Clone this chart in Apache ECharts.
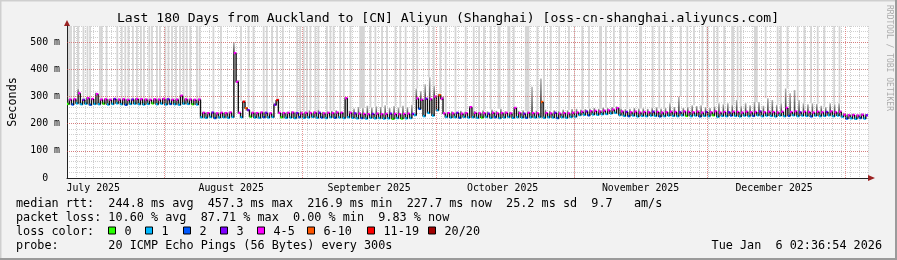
<!DOCTYPE html>
<html><head><meta charset="utf-8">
<script src="https://cdn.jsdelivr.net/npm/echarts@6/dist/echarts.min.js"></script>
<style>html,body{margin:0;padding:0;background:#f2f2f2}#c{width:897px;height:260px}</style>
</head><body><div id="c"></div>
<script>
// ---------------- DATA ----------------
const startISO = '2025-07-10T02:36:54Z';
const totalDays = 180;
const titleText = 'Last 180 Days from Auckland to [CN] Aliyun (Shanghai) [oss-cn-shanghai.aliyuncs.com]';
const monthNames = ['July 2025','August 2025','September 2025','October 2025','November 2025','December 2025'];
const monthLabelDates = ['2025-07-16','2025-08-16','2025-09-16','2025-10-16','2025-11-16','2025-12-16'];
const monthStartDates = ['2025-08-01','2025-09-01','2025-10-01','2025-11-01','2025-12-01','2026-01-01'];
const yTicks = [0,100,200,300,400,500];
const lossClasses = ['0','1','2','3','4-5','6-10','11-19','20/20'];
const lossColors = ['#26ff00','#00b8ff','#0059ff','#7e00ff','#ff00ff','#ff5500','#ff0000','#a10000'];

// median rtt (ms): first and second half of each day
const medLo = [
273,271,275,272,274,270,273,272,274,271,
273,275,272,270,273,274,272,271,273,275,
272,274,271,273,272,270,274,273,272,271,
224,222,225,221,223,224,222,225,354,224,
257,226,223,222,224,223,225,287,224,222,
223,221,224,222,223,225,222,223,221,224,
222,223,221,224,222,220,221,219,222,220,
221,219,220,218,221,219,220,221,232,255,
228,240,230,250,292,225,223,224,222,225,
223,224,222,223,225,222,224,221,223,225,
222,224,223,222,224,223,225,222,224,223,
221,224,222,225,226,232,233,231,234,233,
235,236,238,240,232,229,228,230,227,229,
228,230,229,227,228,230,229,228,231,229,
228,230,227,229,228,231,226,229,228,230,
229,227,230,228,229,231,228,230,229,227,
230,228,229,231,228,230,229,227,230,228,
229,231,228,230,226,219,220,218,221,219];
const medHi = [
289,290,312,288,294,291,309,289,290,288,
291,289,290,288,289,291,290,289,288,290,
289,291,290,288,289,303,290,289,288,289,
240,239,241,238,240,239,241,460,240,281,
250,240,239,241,240,238,270,240,239,240,
241,239,238,240,239,241,240,238,240,239,
241,240,294,240,238,237,236,235,236,237,
235,236,237,236,235,236,237,236,293,288,
292,290,300,305,238,239,238,240,237,239,
261,240,238,239,237,240,238,239,240,238,
258,239,237,240,239,238,280,239,238,240,
237,239,238,240,241,244,245,246,247,245,
248,249,252,257,245,243,242,244,241,243,
242,244,243,241,242,244,243,242,245,243,
242,244,241,243,242,245,241,243,242,244,
243,241,244,242,243,245,242,244,243,241,
244,258,243,245,242,244,243,241,244,242,
243,245,242,244,233,231,232,230,233,231];
// lost pings out of 20
const lossLo = [
0,2,1,1,1,2,1,1,0,1, 1,1,1,2,1,1,1,1,1,0, 1,1,1,2,1,1,1,1,0,1,
1,1,1,2,1,1,1,1,4,1, 7,0,1,1,2,1,1,12,0,1, 1,1,2,1,1,1,1,2,1,1,
2,1,1,1,1,1,2,1,1,1, 1,1,1,0,1,0,1,1,1,2, 1,1,1,1,4,1,1,1,2,1,
1,1,1,0,1,1,2,1,1,1, 1,1,1,2,1,1,1,1,1,1, 2,1,1,1,1,1,1,2,1,1,
1,1,1,1,1,1,2,1,1,1, 1,1,1,2,1,1,1,1,1,0, 1,1,2,1,1,0,1,1,1,2,
1,1,1,1,2,1,1,1,1,1, 1,1,2,1,1,1,1,2,1,1, 1,1,1,1,1,2,1,1,2,1];
const lossHi = [
4,4,4,3,4,4,4,4,4,4, 3,4,4,4,3,4,4,4,4,4, 4,4,3,4,4,4,4,4,4,4,
4,4,3,4,4,4,4,4,4,12, 3,4,4,4,3,4,3,4,4,4, 4,3,4,4,4,4,3,4,4,4,
4,4,4,4,3,4,4,4,3,4, 4,4,3,4,4,4,4,3,4,4, 3,4,4,7,4,4,4,3,4,4,
4,4,4,4,3,4,4,4,4,4, 4,4,3,4,4,4,7,4,4,3, 4,4,4,4,4,4,3,4,4,4,
4,4,4,4,4,3,4,4,4,4, 4,3,4,4,4,4,4,3,4,4, 4,4,4,3,4,4,4,4,3,4,
4,4,4,4,4,3,4,4,4,4, 4,4,4,4,3,4,4,4,4,4, 3,4,4,4,4,4,4,4,4,3];
// top of the ping smoke for each day (ms)
const smokeTop = [
293,294,330,292,298,295,315,293,294,292,
295,293,294,292,293,295,294,293,292,294,
293,295,294,292,293,307,294,293,292,293,
244,243,245,242,244,243,245,500,360,285,
262,244,243,245,244,242,275,292,243,244,
246,244,248,245,250,246,252,244,246,248,
250,246,298,248,256,262,258,266,260,264,
262,268,258,265,260,266,262,270,330,320,
345,371,340,310,300,243,246,244,248,245,
265,247,244,250,246,252,248,255,246,244,
262,248,250,246,336,249,367,252,248,250,
247,252,250,254,255,252,254,256,258,255,
260,258,262,264,256,254,255,258,256,257,
255,258,261,256,258,275,262,299,258,262,
268,265,268,262,258,264,275,272,275,270,
287,265,275,268,280,280,266,294,287,270,
275,330,312,324,287,275,272,275,273,266,
262,275,272,275,240,236,237,235,238,236];
// periods where the slowest ping went off the chart (days since start) and their length (hours)
const timeoutDays = [
0.45,0.9,1.6,2.5,3.7,4.6,5.2,7.4,7.8,8.9,
11.3,12.3,13.1,13.8,14.8,15.7,16.6,17.3,18.5,19.1,
20.2,20.9,22.1,22.8,23.6,24.5,25.4,26.2,26.9,27.7,
29.2,29.8,32.9,34.6,39.1,40.8,41.9,44.2,44.9,46.1,
47.2,48.5,51.7,52.4,53.2,53.9,54.7,55.8,56.5,58.4,
59.2,59.9,61.4,62.2,63.7,66.3,68.2,69.3,70.8,71.9,
73.8,74.9,76.1,77.8,78.7,81.3,82.4,83.9,85.1,87.3,
89.6,91.4,92.6,93.7,95.2,97.1,99.3,100.4,103.4,105.7,
107.2,108.7,110.6,112.8,115.8,117.3,119.9,121.1,122.9,124.4,
125.9,128.9,131.6,133.1,134.2,135.7,137.9,139.4,140.9,142.8,
143.9,145.4,146.2,147.7,149.6,150.7,151.4,154.8,157.0,159.7,
160.4,161.9,164.2,165.7,167.2,168.7,170.2,172.4,173.6];
const timeoutHours = [
7,7,7,12,7,7,7,7,7,7, 7,7,7,7,7,7,7,7,7,7, 7,7,7,7,7,7,7,7,7,7,
7,7,7,7,7,7,7,7,7,7, 7,7,7,7,7,7,7,7,7,7, 7,7,7,7,7,30,7,7,7,7,
7,7,7,7,7,7,7,7,7,7, 7,7,7,7,7,16,16,7,24,7, 7,7,7,7,7,7,16,7,7,7,
7,16,7,7,7,7,7,7,7,7, 7,7,7,7,16,7,7,20,7,7, 7,7,7,7,7,7,7,7,7];
const statLines = [
'median rtt:  244.8 ms avg  457.3 ms max  216.9 ms min  227.7 ms now  25.2 ms sd  9.7   am/s',
'packet loss: 10.60 % avg  87.71 % max  0.00 % min  9.83 % now',
'loss color:',
'probe:       20 ICMP Echo Pings (56 Bytes) every 300s'];
const stampText = 'Tue Jan  6 02:36:54 2026';
const sideText = 'RRDTOOL / TOBI OETIKER';

// ---------------- CHART ----------------
const FONT = '"DejaVu Sans Mono", monospace';
const FS = 11.8;
const AFS = 9.9;
const Y_MAX = 560;
const t0 = Date.parse(startISO);
const dayOf = s => (Date.parse(s + 'T00:00:00Z') - t0) / 86400000;
const monthLabelDays = monthLabelDates.map(dayOf);
const monthStartDays = monthStartDates.map(dayOf);
const binOf = n => n === 0 ? 0 : n === 1 ? 1 : n === 2 ? 2 : n === 3 ? 3 : n <= 5 ? 4 : n <= 10 ? 5 : n <= 19 ? 6 : 7;

const medianData = [];
let prev = null;
for (let d = 0; d < totalDays; d++) {
  medianData.push([d + 0.25, medLo[d], prev === null ? medLo[d] : prev, binOf(lossLo[d])]); prev = medLo[d];
  medianData.push([d + 0.75, medHi[d], prev, binOf(lossHi[d])]); prev = medHi[d];
}
const smokeData = smokeTop.map((t, d) => [d + 0.5, Math.max(medLo[d], medHi[d]), t]);
const timeoutData = timeoutDays.map((t, i) => [t, smokeTop[Math.min(totalDays - 1, Math.floor(t))], Y_MAX, timeoutHours[i] / 24]);

const chart = echarts.init(document.getElementById('c'), null, {renderer: 'canvas'});

const smokeGrad = new echarts.graphic.LinearGradient(0, 0, 0, 1, [
  {offset: 0, color: '#b4b4b4'}, {offset: 1, color: '#3a3a3a'}]);

const option = {
  animation: false,
  backgroundColor: '#f2f2f2',
  grid: {left: 67, right: 29, top: 26, bottom: 82, containLabel: false, outerBoundsMode: 'none',
    show: true, backgroundColor: '#ffffff', borderWidth: 0},
  xAxis: {
    type: 'value', min: 0, max: totalDays, interval: 2,
    axisLine: {show: true, onZero: false, lineStyle: {color: '#222', width: 1}},
    axisTick: {show: false},
    splitLine: {show: true, lineStyle: {color: '#d0d0d0', type: [1, 1], width: 1}},
    axisLabel: {
      customValues: monthLabelDays, margin: 5, color: '#000', fontFamily: FONT, fontSize: AFS,
      formatter: v => {
        let best = 0;
        monthLabelDays.forEach((m, i) => { if (Math.abs(m - v) < Math.abs(monthLabelDays[best] - v)) best = i; });
        return monthNames[best];
      }
    }
  },
  yAxis: {
    type: 'value', min: 0, max: Y_MAX, interval: 20,
    name: 'Seconds', nameLocation: 'middle', nameGap: 41, nameRotate: 90,
    nameTextStyle: {fontFamily: FONT, fontSize: FS, color: '#000'},
    axisLine: {show: true, lineStyle: {color: '#222', width: 1}},
    axisTick: {show: false},
    splitLine: {show: true, lineStyle: {color: '#d0d0d0', type: [1, 1], width: 1}},
    axisLabel: {
      margin: 7, color: '#000', fontFamily: FONT, fontSize: AFS,
      formatter: v => yTicks.indexOf(v) < 0 ? '' : (v === 0 ? '0  ' : v + ' m')
    }
  },
  series: [
    {
      type: 'line', data: [], z: 1, silent: true,
      markLine: {
        silent: true, symbol: ['none', 'none'], label: {show: false}, animation: false,
        lineStyle: {color: 'rgba(215,60,60,0.55)', type: [1, 1], width: 1},
        data: yTicks.filter(v => v > 0).map(v => ({yAxis: v})).concat(monthStartDays.map(d => ({xAxis: d})))
      }
    },
    {
      type: 'custom', z: 2, silent: true, clip: true, data: timeoutData,
      encode: {x: 0, y: 1},
      renderItem(params, api) {
        const t = api.value(0), lo = api.value(1), hi = api.value(2), w = api.value(3);
        const a = api.coord([t, lo]), b = api.coord([t, hi]), c = api.coord([t + w, lo]);
        const width = Math.max(1.8, c[0] - a[0]);
        return {type: 'rect', shape: {x: a[0] - width / 2, y: b[1], width: width, height: a[1] - b[1]},
          style: {fill: '#d5d5d5'}};
      }
    },
    {
      type: 'custom', z: 3, silent: true, clip: true, data: smokeData,
      encode: {x: 0, y: 2},
      renderItem(params, api) {
        const t = api.value(0), lo = api.value(1), hi = api.value(2);
        const a = api.coord([t, lo]), b = api.coord([t, hi]);
        if (a[1] - b[1] < 0.5) return null;
        return {type: 'rect', shape: {x: a[0] - 0.8, y: b[1], width: 1.6, height: a[1] - b[1]},
          style: {fill: smokeGrad}};
      }
    },
    {
      type: 'custom', z: 4, silent: true, clip: true, data: medianData,
      encode: {x: 0, y: 1},
      renderItem(params, api) {
        const t = api.value(0), v = api.value(1), pv = api.value(2), c = api.value(3);
        const p0 = api.coord([t - 0.25, v]), p1 = api.coord([t + 0.25, v]), pp = api.coord([t - 0.25, pv]);
        return {type: 'group', children: [
          {type: 'rect', shape: {x: p0[0] - 0.7, y: Math.min(pp[1], p0[1]), width: 1.4, height: Math.abs(pp[1] - p0[1]) + 0.5},
            style: {fill: '#111'}},
          {type: 'rect', shape: {x: p0[0], y: p0[1] - 1.2, width: p1[0] - p0[0] + 0.3, height: 2.4},
            style: {fill: lossColors[c]}}
        ]};
      }
    }
  ]
};
chart.setOption(option);

// decorations: title, legend texts, frame, axis arrows
const g = [];
g.push({type: 'rect', shape: {x: 0, y: 0, width: 897, height: 1.5}, style: {fill: '#cfcfcf'}, silent: true});
g.push({type: 'rect', shape: {x: 0, y: 0, width: 1.5, height: 260}, style: {fill: '#cfcfcf'}, silent: true});
g.push({type: 'rect', shape: {x: 0, y: 258, width: 897, height: 2}, style: {fill: '#9b9b9b'}, silent: true});
g.push({type: 'rect', shape: {x: 895, y: 0, width: 2, height: 260}, style: {fill: '#9b9b9b'}, silent: true});
g.push({type: 'text', style: {text: titleText, x: 448, y: 19, align: 'center', verticalAlign: 'middle',
  font: '13.1px ' + FONT, fill: '#000'}});
g.push({type: 'text', rotation: -Math.PI / 2, x: 889, y: 5,
  style: {text: sideText, x: 0, y: 0, align: 'left', verticalAlign: 'middle', font: '8px ' + FONT, fill: '#acacac'}});
const lineY = [204, 218, 232, 246];
statLines.forEach((s, i) => g.push({type: 'text', style: {text: s, x: 16, y: lineY[i], verticalAlign: 'middle',
  font: FS + 'px ' + FONT, fill: '#000'}}));
g.push({type: 'text', style: {text: stampText, x: 882, y: lineY[3], align: 'right', verticalAlign: 'middle',
  font: FS + 'px ' + FONT, fill: '#000'}});
const sqX = [108, 145, 183, 220, 257, 307, 367, 428];
lossClasses.forEach((lab, i) => {
  g.push({type: 'rect', shape: {x: sqX[i] + 0.5, y: 227, width: 7, height: 7}, style: {fill: lossColors[i], stroke: '#000', lineWidth: 1}});
  g.push({type: 'text', style: {text: lab, x: sqX[i] + 16.5, y: lineY[2], verticalAlign: 'middle', font: FS + 'px ' + FONT, fill: '#000'}});
});
const o = chart.convertToPixel({gridIndex: 0}, [0, 0]);
const e = chart.convertToPixel({gridIndex: 0}, [totalDays, Y_MAX]);
g.push({type: 'polygon', shape: {points: [[e[0], o[1] - 3], [e[0] + 7, o[1]], [e[0], o[1] + 3]]}, style: {fill: '#9b2222'}});
g.push({type: 'polygon', shape: {points: [[o[0] - 3, e[1]], [o[0], e[1] - 6], [o[0] + 3, e[1]]]}, style: {fill: '#9b2222'}});
chart.setOption({graphic: {elements: g}});
</script>
</body></html>
